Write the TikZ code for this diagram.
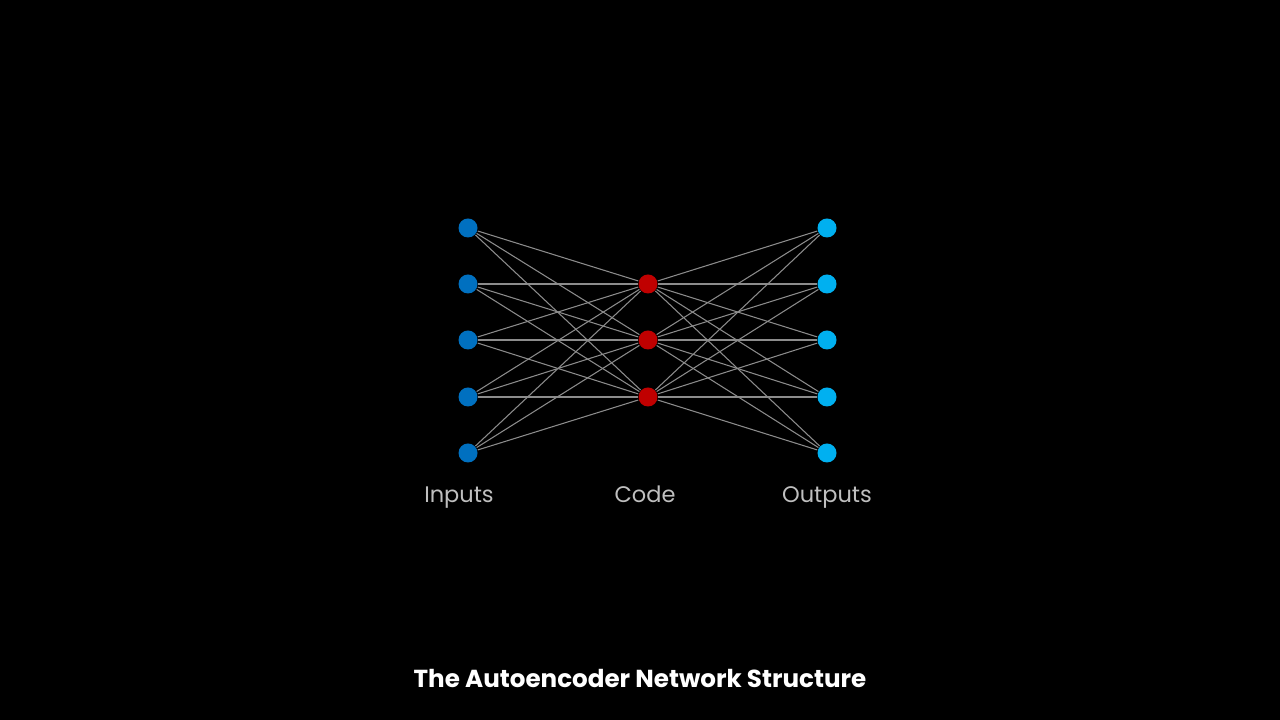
\documentclass[tikz,border=0pt]{standalone}
\usepackage{fontspec}
\setmainfont{Poppins}
\usepackage{xcolor}
\usepackage{tikz}

\definecolor{inblue}{HTML}{0070C0}
\definecolor{codered}{HTML}{C00000}
\definecolor{outblue}{HTML}{00B0F0}
\definecolor{wiregray}{HTML}{8C8C8C}
\definecolor{labelgray}{HTML}{BFBFBF}

\tikzset{
	unit/.style={circle,minimum size=0.19cm,inner sep=0pt},
	wire/.style={wiregray,line width=0.3pt},
	layerlabel/.style={labelgray,anchor=base,font=\fontsize{6.4}{8}\selectfont},
}

\begin{document}
\begin{tikzpicture}
	\fill [black] (0,0) rectangle (12.8,7.2);
	\useasboundingbox (0,0) rectangle (12.8,7.2);
	
	\begin{scope}
		\foreach \i/\y in {1/4.92, 2/4.36, 3/3.80, 4/3.23, 5/2.67} {
			\node [unit,fill=inblue] (in\i) at (4.68,\y) {};
			\node [unit,fill=outblue] (out\i) at (8.27,\y) {};
		}
		\foreach \j/\y in {1/4.36, 2/3.80, 3/3.23} {
			\node [unit,fill=codered] (code\j) at (6.48,\y) {};
		}
		\foreach \i in {1,...,5} {
			\foreach \j in {1,2,3} {
				\draw [wire] (in\i) -- (code\j);
				\draw [wire] (code\j) -- (out\i);
			}
		}
	\end{scope}
	
	\node [layerlabel] (lin) at (4.59,2.17) {Inputs};
	\node [layerlabel] (lcode) at (6.45,2.17) {Code};
	\node [layerlabel] (lout) at (8.27,2.17) {Outputs};
	
	\node [white,font=\fontsize{7}{8}\selectfont\bfseries] (title) at (6.40,0.41) {The Autoencoder Network Structure};
\end{tikzpicture}
\end{document}
